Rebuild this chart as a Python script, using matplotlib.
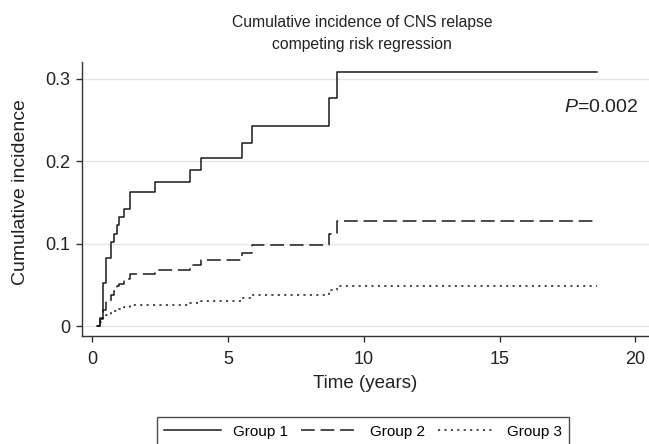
import matplotlib
matplotlib.use("Agg")
import matplotlib.pyplot as plt
from matplotlib.lines import Line2D

plt.rcParams['font.family'] = ['Liberation Sans', 'DejaVu Sans']
plt.rcParams['mathtext.fontset'] = 'custom'
plt.rcParams['mathtext.it'] = 'Liberation Sans:italic'
plt.rcParams['mathtext.rm'] = 'Liberation Sans'

# Data
times = [0.19, 0.29, 0.39, 0.50, 0.70, 0.81, 0.91, 1.00, 1.19, 1.41, 2.30, 3.60, 4.00, 5.51, 5.90, 8.71, 9.00, 18.6]
group1 = [0, 0.010, 0.052, 0.082, 0.102, 0.112, 0.122, 0.132, 0.142, 0.162, 0.175, 0.189, 0.204, 0.222, 0.242, 0.276, 0.308, 0.308]
group2 = [0, 0.008, 0.020, 0.031, 0.038, 0.043, 0.048, 0.051, 0.057, 0.063, 0.068, 0.074, 0.080, 0.089, 0.098, 0.112, 0.127, 0.127]
group3 = [0, 0.005, 0.012, 0.014, 0.017, 0.018, 0.020, 0.021, 0.023, 0.025, 0.026, 0.028, 0.031, 0.034, 0.038, 0.044, 0.048, 0.048]
labels = ["Group 1", "Group 2", "Group 3"]
xticks = [0, 5, 10, 15, 20]
yticks = [0, 0.1, 0.2, 0.3]
yticklabels = ["0", "0.1", "0.2", "0.3"]

W, H = 649, 444
fig = plt.figure(figsize=(W / 100, H / 100), dpi=100)
ax = fig.add_axes([82 / W, 1 - 336 / H, (W - 82) / W, (336 - 62) / H])

color = '#1a1a1a'
styles = ['-', (0, (9, 3.8)), (0, (1.4, 2.8))]
for y, ls, lab in zip([group1, group2, group3], styles, labels):
    ax.plot(times, y, drawstyle='steps-post', color=color, lw=1.1, ls=ls, label=lab)

ax.set_xlim(-0.37, 20.5)
ax.set_ylim(-0.012, 0.32)
ax.set_xticks(xticks)
ax.set_yticks(yticks)
ax.set_yticklabels(yticklabels)
ax.tick_params(direction='out', length=4.5, width=1, colors='#333333', labelsize=13, labelcolor='#222222', pad=4)
ax.tick_params(axis='x', pad=6.5)
for t in yticks:
    ax.axhline(t, color='#e6e6e6', lw=1, zorder=0)
for s in ['top', 'right']:
    ax.spines[s].set_visible(False)
for s in ['left', 'bottom']:
    ax.spines[s].set_color('#333333')
    ax.spines[s].set_linewidth(1)

ax.set_xlabel("Time (years)", fontsize=13.5, color='#222222', labelpad=5)
ax.set_ylabel("Cumulative incidence", fontsize=14, color='#222222')
ax.yaxis.set_label_coords(-0.094, 0.527)

fig.text(362 / W, 1 - 22 / H, "Cumulative incidence of CNS relapse", ha='center', va='center', fontsize=11.3, color='#222222')
fig.text(362 / W, 1 - 44 / H, "competing risk regression", ha='center', va='center', fontsize=11.3, color='#222222')

ax.text(638 / W, 1 - 108 / H, r'$\mathit{P}$=0.002', transform=fig.transFigure, ha='right', va='center', fontsize=14, color='#222222')

handles = [Line2D([0], [0], color=color, lw=1.1, ls=ls) for ls in styles]
leg = fig.legend(handles, labels, loc='upper center', bbox_to_anchor=(363 / W, 1 - 417 / H),
                 ncol=3, frameon=True, fancybox=False, edgecolor='#222222', fontsize=11,
                 handlelength=3.7, handletextpad=0.8, columnspacing=0.85, borderpad=0.5,
                 borderaxespad=0)
leg.get_frame().set_linewidth(1)

fig.savefig("out.png", dpi=100)
